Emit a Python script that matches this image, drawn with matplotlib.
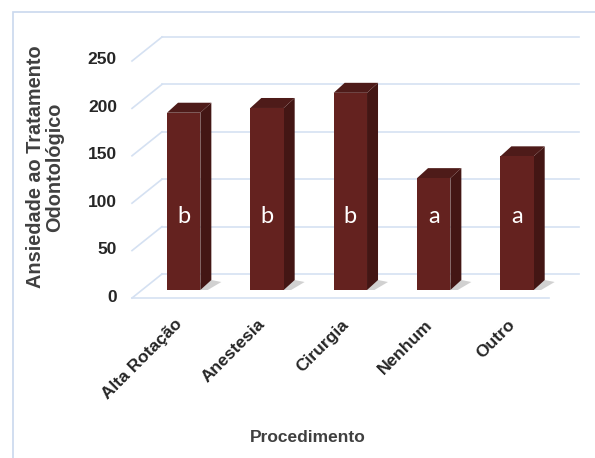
import matplotlib
matplotlib.use("Agg")
import matplotlib.pyplot as plt
from matplotlib.patches import Polygon, Rectangle
from matplotlib.transforms import ScaledTranslation

categories = ["Alta Rotação", "Anestesia", "Cirurgia", "Nenhum", "Outro"]
values = [187, 192, 208, 118, 141]
letters = ["b", "b", "b", "a", "a"]
yticks = [0, 50, 100, 150, 200, 250]

plt.rcParams["font.family"] = ["Liberation Sans", "DejaVu Sans"]

W, H = 595, 458
fig = plt.figure(figsize=(W / 100, H / 100), dpi=100)
ax = fig.add_axes([142 / W, 168 / H, 416.7 / W, 237 / H])
ax.set_xlim(-0.5, 4.5)
ax.set_ylim(0, 250)
ax.axis("off")

# pixel -> data unit conversion for the fake 3d depth
px_x = 5 / 416.7
px_y = 250 / 237


def shift(dx, dy):
    return ax.transData + ScaledTranslation(dx / 100, dy / 100, fig.dpi_scale_trans)


grid_c = "#D5E1F2"
front_c = "#64221F"
top_c = "#4E1B19"
side_c = "#431614"

# back wall / floor offsets (pixels) relative to the bar front plane
bk = (20, 16)
fr = (-10, -8)

for v in yticks:
    # back wall gridline
    ax.plot([-0.5, 4.5], [v + bk[1] * px_y] * 2,
            transform=shift(bk[0], 0), color=grid_c, lw=1.2, clip_on=False, zorder=1)
    # left side diagonal
    ax.plot([-0.5 + fr[0] * px_x, -0.5 + bk[0] * px_x],
            [v + fr[1] * px_y, v + bk[1] * px_y],
            color=grid_c, lw=1.2, clip_on=False, zorder=1)
# floor front edge
ax.plot([-0.5, 4.5], [0, 0], transform=shift(*fr), color=grid_c, lw=1.2,
        clip_on=False, zorder=1)

# bars
bw = 0.4
bdx, bdy = 11 * px_x, 10 * px_y
for i, v in enumerate(values):
    x0, x1 = i - bw / 2, i + bw / 2
    shadow = Polygon([(x0 - 3 * px_x, -2 * px_y), (x1 + 4 * px_x, -2 * px_y),
                      (x1 + bdx + 10 * px_x, bdy - 2 * px_y), (x1 + bdx, bdy)],
                     closed=True, color="#9A9A9A", alpha=0.45, lw=0, zorder=2)
    ax.add_patch(shadow)
    ax.add_patch(Polygon([(x1, 0), (x1, v), (x1 + bdx, v + bdy), (x1 + bdx, bdy)],
                         closed=True, color=side_c, lw=0, zorder=3))
    ax.add_patch(Polygon([(x0, v), (x1, v), (x1 + bdx, v + bdy), (x0 + bdx, v + bdy)],
                         closed=True, color=top_c, lw=0, zorder=3))
ax.bar(range(len(values)), values, width=bw, color=front_c, zorder=4)

for i, lt in enumerate(letters):
    ax.text(i, 71, lt, color="white", fontsize=17, family=["Lato", "DejaVu Sans"],
            ha="center", va="baseline", zorder=5)

# y tick labels
for v in yticks:
    ax.text(-0.5, v, str(v), transform=shift(fr[0] - 15, fr[1] + 1),
            ha="right", va="center", fontsize=12.5, fontweight="bold", color="#262626")

# x tick labels
for i, c in enumerate(categories):
    ax.text(i, 0, c, transform=shift(-4, -32), rotation=45, rotation_mode="anchor",
            ha="right", va="center", fontsize=12.5, fontweight="bold", color="#262626")

fig.text(45 / W, 1 - 167 / H, "Ansiedade ao Tratamento\nOdontológico", rotation=90,
         ha="center", va="center", multialignment="center", fontsize=14.3,
         fontweight="bold", color="#404040", linespacing=1.0)
fig.text(308 / W, 1 - 438 / H, "Procedimento", ha="center", va="center",
         fontsize=12.5, fontweight="bold", color="#404040")

fig.add_artist(Rectangle((13 / W, -0.1), 2, 1 - 12 / H + 0.1, transform=fig.transFigure,
                         fill=False, ec="#C9D8EE", lw=1.2))

fig.savefig("out.png", dpi=100)
